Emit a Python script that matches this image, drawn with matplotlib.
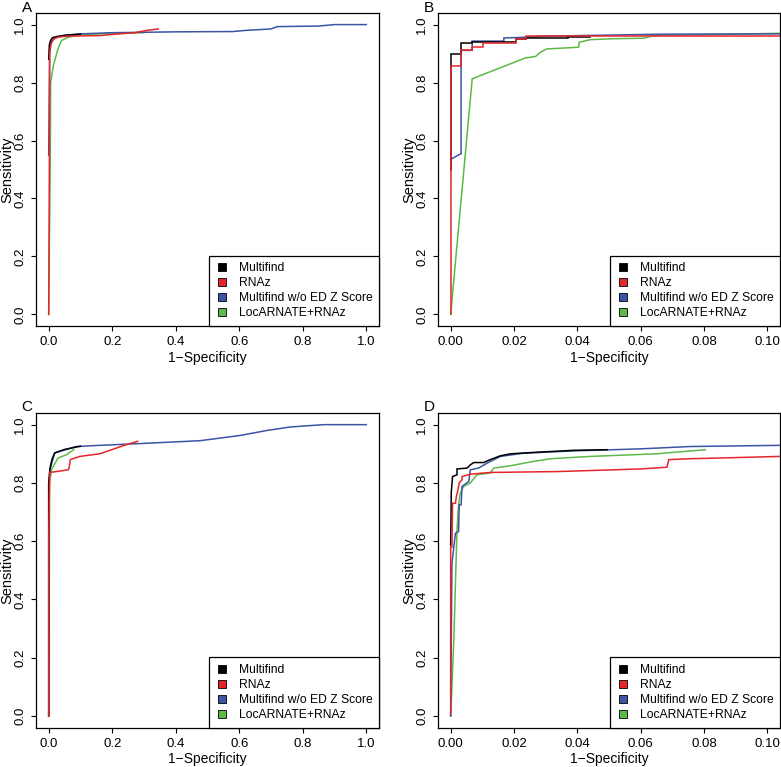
import matplotlib
matplotlib.use("Agg")
import matplotlib.pyplot as plt
from matplotlib.lines import Line2D

plt.rcParams['font.family'] = ['Liberation Sans', 'DejaVu Sans']

names = ["Multifind", "RNAz", "Multifind w/o ED Z Score", "LocARNATE+RNAz"]
colors = ["#000000", "#E5252A", "#3B54A4", "#5DB948"]

# Panel A  (full range)
a_mf_x = [0.0, 0.002, 0.006, 0.012, 0.03, 0.06, 0.1]
a_mf_y = [0.88, 0.93, 0.945, 0.955, 0.96, 0.964, 0.967]
a_rz_x = [0.0, 0.002, 0.003, 0.006, 0.015, 0.03, 0.06, 0.16, 0.2, 0.27, 0.31, 0.345]
a_rz_y = [0.0, 0.5, 0.9, 0.93, 0.95, 0.957, 0.96, 0.962, 0.966, 0.972, 0.98, 0.985]
a_wo_x = [0.0, 0.003, 0.008, 0.02, 0.05, 0.1, 0.2, 0.4, 0.58, 0.62, 0.7, 0.72, 0.85, 0.9, 1.0]
a_wo_y = [0.55, 0.9, 0.94, 0.955, 0.963, 0.968, 0.972, 0.975, 0.976, 0.98, 0.985, 0.993, 0.995, 1.0, 1.0]
a_lo_x = [0.0, 0.005, 0.006, 0.015, 0.029, 0.04, 0.061, 0.1, 0.2, 0.3]
a_lo_y = [0.0, 0.55, 0.8, 0.86, 0.916, 0.945, 0.956, 0.965, 0.97, 0.972]

# Panel B  (zoom to 0.1)
b_mf_x = [0.0, 0.0, 0.0033, 0.0033, 0.0068, 0.0068, 0.0205, 0.0205, 0.0239, 0.0239, 0.037, 0.037, 0.044]
b_mf_y = [0.5, 0.9, 0.9, 0.937, 0.937, 0.94, 0.94, 0.951, 0.951, 0.953, 0.953, 0.957, 0.957]
b_rz_x = [0.0, 0.0, 0.0033, 0.0033, 0.0068, 0.0068, 0.0103, 0.0103, 0.0205, 0.0205, 0.0239, 0.0239, 0.104]
b_rz_y = [0.0, 0.858, 0.858, 0.914, 0.914, 0.922, 0.922, 0.937, 0.937, 0.951, 0.951, 0.96, 0.96]
b_wo_x = [0.0, 0.0033, 0.0033, 0.0068, 0.0068, 0.0168, 0.0168, 0.0205, 0.03, 0.067, 0.104]
b_wo_y = [0.535, 0.555, 0.911, 0.911, 0.943, 0.943, 0.954, 0.955, 0.96, 0.967, 0.968]
b_lo_x = [0.0, 0.0068, 0.0236, 0.0268, 0.0284, 0.0304, 0.0373, 0.0404, 0.0406, 0.0441, 0.0504, 0.061, 0.064, 0.104]
b_lo_y = [0.0, 0.813, 0.885, 0.89, 0.905, 0.916, 0.92, 0.922, 0.939, 0.948, 0.951, 0.953, 0.962, 0.97]

# Panel C  (full range)
c_mf_x = [0.0, 0.0, 0.004, 0.01, 0.019, 0.05, 0.1]
c_mf_y = [0.0, 0.8, 0.85, 0.88, 0.903, 0.915, 0.926]
c_rz_x = [0.0, 0.0, 0.003, 0.024, 0.061, 0.064, 0.068, 0.098, 0.161, 0.193, 0.235, 0.28]
c_rz_y = [0.0, 0.6, 0.836, 0.839, 0.845, 0.85, 0.88, 0.891, 0.9, 0.912, 0.928, 0.943]
c_wo_x = [0.0, 0.0, 0.005, 0.019, 0.087, 0.16, 0.287, 0.477, 0.603, 0.687, 0.76, 0.866, 1.0]
c_wo_y = [0.0, 0.8, 0.85, 0.903, 0.925, 0.929, 0.935, 0.945, 0.963, 0.98, 0.992, 1.0, 1.0]
c_lo_x = [0.0, 0.003, 0.0085, 0.029, 0.056, 0.079]
c_lo_y = [0.0, 0.8, 0.845, 0.885, 0.897, 0.914]

# Panel D  (zoom to 0.1)
d_mf_x = [0.0, 0.0002, 0.0006, 0.002, 0.002, 0.0052, 0.0062, 0.0073, 0.0104, 0.0125, 0.0157, 0.0189, 0.0283, 0.0389, 0.0494]
d_mf_y = [0.587, 0.77, 0.822, 0.828, 0.848, 0.851, 0.862, 0.87, 0.87, 0.88, 0.893, 0.9, 0.906, 0.912, 0.914]
d_rz_x = [0.0, 0.0, 0.0004, 0.0006, 0.0015, 0.0018, 0.0023, 0.0027, 0.0036, 0.0036, 0.0062, 0.0125, 0.0336, 0.06, 0.0683, 0.0689, 0.0757, 0.104]
d_rz_y = [0.005, 0.58, 0.58, 0.73, 0.73, 0.753, 0.776, 0.8, 0.811, 0.822, 0.83, 0.836, 0.839, 0.848, 0.854, 0.88, 0.883, 0.891]
d_wo_x = [0.0, 0.0004, 0.0015, 0.0025, 0.0027, 0.0033, 0.0036, 0.0057, 0.0062, 0.0088, 0.0115, 0.0157, 0.023, 0.039, 0.06, 0.0757, 0.104]
d_wo_y = [0.0, 0.524, 0.627, 0.633, 0.725, 0.725, 0.788, 0.805, 0.845, 0.851, 0.868, 0.891, 0.902, 0.91, 0.917, 0.925, 0.929]
d_lo_x = [0.0, 0.001, 0.002, 0.0025, 0.003, 0.0041, 0.0062, 0.0083, 0.0125, 0.0136, 0.0189, 0.0262, 0.0315, 0.0441, 0.065, 0.0804]
d_lo_y = [0.0, 0.26, 0.639, 0.725, 0.765, 0.788, 0.8, 0.828, 0.834, 0.851, 0.859, 0.874, 0.883, 0.891, 0.9, 0.914]

panels = [
    ("A", [(a_mf_x, a_mf_y), (a_rz_x, a_rz_y), (a_wo_x, a_wo_y), (a_lo_x, a_lo_y)], 1.0),
    ("B", [(b_mf_x, b_mf_y), (b_rz_x, b_rz_y), (b_wo_x, b_wo_y), (b_lo_x, b_lo_y)], 0.1),
    ("C", [(c_mf_x, c_mf_y), (c_rz_x, c_rz_y), (c_wo_x, c_wo_y), (c_lo_x, c_lo_y)], 1.0),
    ("D", [(d_mf_x, d_mf_y), (d_rz_x, d_rz_y), (d_wo_x, d_wo_y), (d_lo_x, d_lo_y)], 0.1),
]

W, H = 781, 767
fig = plt.figure(figsize=(W / 100, H / 100), dpi=100)

# axes boxes in pixels: left, right, top, bottom
boxes = [(36, 379, 13, 326), (438, 780, 13, 326),
         (36, 379, 413, 727.7), (438, 780, 413, 727.7)]

for (label, curves, xmax), (l, r, t, b) in zip(panels, boxes):
    ax = fig.add_axes([l / W, 1 - b / H, (r - l) / W, (b - t) / H])
    # plot order: LocARNATE, blue, black, red on top
    for i in [3, 2, 0, 1]:
        x, y = curves[i]
        ax.plot(x, y, color=colors[i], lw=1.1, solid_joinstyle='miter')
    ax.set_xlim(-0.04 * xmax, 1.04 * xmax)
    ax.set_ylim(-0.04, 1.04)
    if xmax == 1.0:
        ax.set_xticks([0, 0.2, 0.4, 0.6, 0.8, 1.0])
        ax.set_xticklabels(["0.0", "0.2", "0.4", "0.6", "0.8", "1.0"])
    else:
        ax.set_xticks([0, 0.02, 0.04, 0.06, 0.08, 0.10])
        ax.set_xticklabels(["0.00", "0.02", "0.04", "0.06", "0.08", "0.10"])
    ax.set_yticks([0, 0.2, 0.4, 0.6, 0.8, 1.0])
    ax.set_yticklabels(["0.0", "0.2", "0.4", "0.6", "0.8", "1.0"], rotation=90, va='center')
    ax.tick_params(direction='out', length=3.6, width=0.8, labelsize=9.5)
    ax.tick_params(axis='y', pad=3.5)
    ax.tick_params(axis='x', pad=3.5)
    for s in ax.spines.values():
        s.set_linewidth(0.9)
    ax.set_xlabel("1\u2212Specificity", fontsize=10, labelpad=2)
    ax.set_ylabel("Sensitivity", fontsize=10.5)
    ax.yaxis.set_label_coords(-0.062, 0.5)
    # panel letter sits just above the top-left corner
    fig.text((l - 9) / W, 1 - (t - 1.5) / H, label, ha='center', va='baseline', fontsize=11)

    handles = [Line2D([], [], ls='none', marker='s', markersize=6.2,
                      markerfacecolor=c, markeredgecolor='black', markeredgewidth=0.6)
               for c in colors]
    leg = ax.legend(handles, names, loc='lower right', borderaxespad=0, fontsize=8.7,
                    fancybox=False, framealpha=1, edgecolor='black',
                    handlelength=1.06, handletextpad=0.87, labelspacing=0.25,
                    borderpad=0.55)
    leg.get_frame().set_linewidth(0.9)

fig.savefig("out.png", dpi=100)
